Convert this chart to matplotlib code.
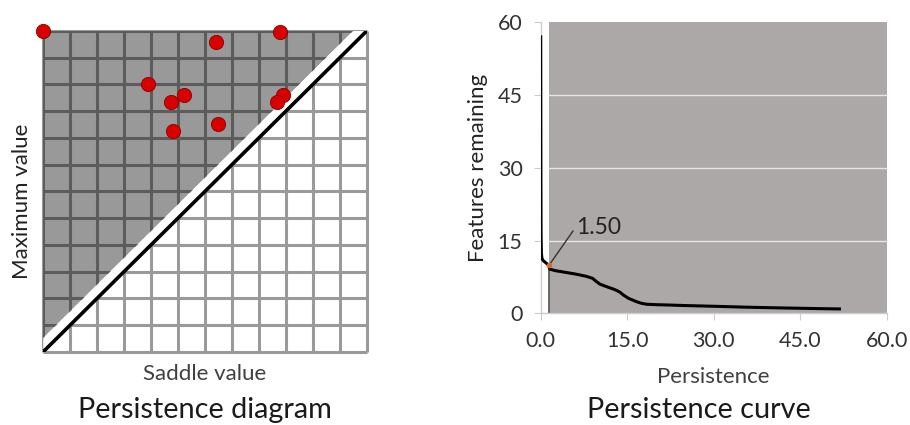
import matplotlib
matplotlib.use("Agg")
import matplotlib.pyplot as plt
import numpy as np

# ---------------- data ----------------
# Persistence diagram points (saddle value, maximum value), grid units 0..12
saddle_vals = [0.0, 8.78, 6.40, 3.87, 5.23, 4.74, 6.49, 4.82, 8.90, 8.68]
max_vals    = [12.0, 11.98, 11.57, 10.01, 9.61, 9.36, 8.53, 8.24, 9.62, 9.36]
grid_n = 12
band = 0.5

# Persistence curve
pers = [0.0, 0.03, 0.06, 0.12, 0.2, 0.4, 0.8, 1.3, 1.6, 2.5, 4.0, 6.0, 8.0,
        9.0, 9.7, 10.3, 11.4, 12.6, 13.2, 13.8, 14.3, 15.2, 16.6, 17.5,
        18.4, 20.0, 22.4, 25.0, 30.0, 36.0, 42.0, 48.0, 51.8]
feat = [57.0, 30.0, 16.5, 12.5, 11.4, 10.9, 10.5, 10.0, 9.1, 8.8, 8.5, 8.1, 7.6,
        7.2, 6.5, 6.0, 5.5, 5.0, 4.7, 4.3, 3.8, 3.1, 2.4, 2.05,
        1.86, 1.78, 1.7, 1.6, 1.45, 1.25, 1.1, 0.97, 0.9]
threshold = 1.5
thr_feat = 10.0
x_ticks = [0.0, 15.0, 30.0, 45.0, 60.0]
y_ticks = [0, 15, 30, 45, 60]

FONT = ["Lato", "DejaVu Sans"]
plt.rcParams['font.family'] = FONT

fig = plt.figure(figsize=(9.10, 4.25), dpi=100)
W, H = 910, 425

def px_axes(x0, y0, x1, y1):
    return fig.add_axes([x0 / W, 1 - y1 / H, (x1 - x0) / W, (y1 - y0) / H])

# ---------------- left: persistence diagram ----------------
ax1 = px_axes(43.3, 31.0, 366.7, 351.7)
ax1.set_xlim(0, grid_n)
ax1.set_ylim(0, grid_n)
for i in range(grid_n + 1):
    ax1.plot([i, i], [0, grid_n], color="#9a9a9a", lw=2.2, zorder=1, clip_on=False,
             solid_capstyle='butt')
    ax1.plot([0, grid_n], [i, i], color="#9a9a9a", lw=2.2, zorder=1, clip_on=False,
             solid_capstyle='butt')
# gray triangle (above the band)
ax1.fill([0, 0, grid_n - band], [band, grid_n, grid_n], color="black", alpha=0.40,
         lw=0, zorder=2)
# white band
ax1.fill([0, 0, grid_n - band, grid_n], [0, band, grid_n, grid_n], color="white",
         lw=0, zorder=3)
ax1.plot([0, grid_n], [0, grid_n], color="black", lw=2.6, zorder=4)
ax1.scatter(saddle_vals, max_vals, s=105, color="#d90000", edgecolors="#8a0000",
            linewidths=0.6, zorder=6, clip_on=False)
ax1.axis("off")
fig.text(205 / W, 1 - 374 / H, "Saddle value", ha="center", va="center",
         fontsize=16, color="#404040")
fig.text(22 / W, 1 - 201 / H, "Maximum value", ha="center", va="center",
         rotation=90, fontsize=16, color="#222222")
fig.text(205 / W, 1 - 410 / H, "Persistence diagram", ha="center", va="center",
         fontsize=20.8, color="#1a1a1a")

# ---------------- right: persistence curve ----------------
ax2 = px_axes(540.7, 22.3, 886.7, 313.3)
ax2.set_xlim(0, 60)
ax2.set_ylim(0, 60)
ax2.axvspan(threshold, 60, color="#aca8a8", lw=0, zorder=0)
for yv in y_ticks[1:-1]:
    ax2.plot([threshold, 60], [yv, yv], color="#e6e6e6", lw=1.0, zorder=1)
ax2.plot([threshold, threshold], [0, thr_feat], color="#555555", lw=1.2, zorder=2)
ax2.plot(pers, feat, color="black", lw=2.2, zorder=3, solid_joinstyle='round')
ax2.plot([threshold], [thr_feat], marker="o", ms=3, color="#e06a1a", zorder=4)
ax2.annotate("1.50", xy=(threshold, thr_feat), xytext=(6.1, 17.7),
             fontsize=16.5, color="#222222", va="center", ha="left",
             arrowprops=dict(arrowstyle="-", color="#333333", lw=1.0,
                             shrinkA=0, shrinkB=0,
                             connectionstyle="angle,angleA=0,angleB=55,rad=0"))
ax2.set_xticks(x_ticks)
ax2.set_xticklabels([f"{v:.1f}" for v in x_ticks])
ax2.set_yticks(y_ticks)
ax2.set_yticklabels([str(v) for v in y_ticks])
for s in ["top", "right"]:
    ax2.spines[s].set_visible(False)
for s in ["left", "bottom"]:
    ax2.spines[s].set_color("#cccccc")
    ax2.spines[s].set_linewidth(1.0)
ax2.tick_params(direction="out", length=5, color="#cccccc", labelsize=15.5,
                labelcolor="#333333", pad=8)
fig.text(713 / W, 1 - 377 / H, "Persistence", ha="center", va="center",
         fontsize=16, color="#404040")
fig.text(478 / W, 1 - 168 / H, "Features remaining", ha="center", va="center",
         rotation=90, fontsize=16, color="#222222")
fig.text(699 / W, 1 - 410 / H, "Persistence curve", ha="center", va="center",
         fontsize=20.8, color="#1a1a1a")

fig.savefig("out.png", dpi=100)
